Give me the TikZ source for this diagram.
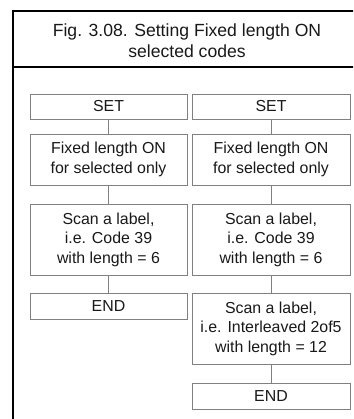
\documentclass[tikz,border=0pt]{standalone}
\usepackage{fontspec}
\setmainfont{Liberation Sans}
\begin{document}
\begin{tikzpicture}[x=1pt,y=-1pt,
  box/.style={draw=black!50,line width=0.8pt,rectangle,inner sep=0pt,align=center,
    font=\fontsize{15.9}{19.5}\selectfont,text=black!90},
  conn/.style={draw=black!50,line width=0.8pt},
  frame/.style={draw=black,line width=2pt}]
\useasboundingbox (0,0) rectangle (353,419);
\clip (0,0) rectangle (353,419);
\fill[white] (0,0) rectangle (353,419);
% frame
\draw[frame] (12.5,440) -- (12.5,11) -- (370,11);
\draw[frame] (12.5,67) -- (370,67);
\node[align=center,font=\fontsize{17.6}{21.5}\selectfont,text=black!90] (title) at (187,40.5)
  {Fig. 3.08. Setting Fixed length ON\\selected codes};
% left column
\node[box,minimum width=157,minimum height=25] (ls) at (108.5,106.5) {SET};
\node[box,minimum width=157,minimum height=51] (lf) at (108.5,159.5) {Fixed length ON\\for selected only};
\node[box,minimum width=157,minimum height=71] (lc) at (108.5,239.5) {Scan a label,\\i.e. Code 39\\with length = 6};
\node[box,minimum width=157,minimum height=26] (le) at (108.5,306) {END};
% right column
\node[box,minimum width=158,minimum height=25] (rs) at (271,106.5) {SET};
\node[box,minimum width=158,minimum height=51] (rf) at (271,159.5) {Fixed length ON\\for selected only};
\node[box,minimum width=158,minimum height=71] (rc) at (271,239.5) {Scan a label,\\i.e. Code 39\\with length = 6};
\node[box,minimum width=158,minimum height=71] (ri) at (271,328.5) {Scan a label,\\i.e. Interleaved 2of5\\with length = 12};
\node[box,minimum width=158,minimum height=26] (re) at (271,396) {END};
% connectors
\draw[conn] (ls) -- (lf);
\draw[conn] (lf) -- (lc);
\draw[conn] (lc) -- (le);
\draw[conn] (rs) -- (rf);
\draw[conn] (rf) -- (rc);
\draw[conn] (rc) -- (ri);
\draw[conn] (ri) -- (re);
\end{tikzpicture}
\end{document}
